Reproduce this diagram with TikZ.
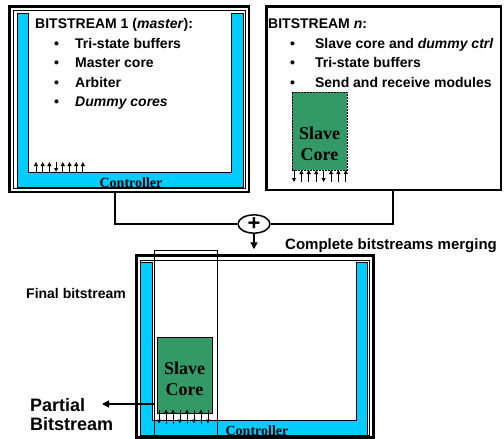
\documentclass[tikz,border=0pt]{standalone}
\usepackage{fontspec}
\setmainfont{Liberation Sans}
\newfontfamily\serifbf{Liberation Serif}
\usetikzlibrary{shapes.geometric, arrows.meta, positioning, calc}

\definecolor{ctrlblue}{RGB}{0,204,255}
\definecolor{coregreen}{RGB}{51,153,102}
\definecolor{pinyellow}{RGB}{230,180,0}

% bullet line with indent
\newcommand{\bitem}[1][19pt]{\hspace*{#1}\makebox[21pt][l]{\textbullet}}

\begin{document}
\begin{tikzpicture}[
        x=1pt, y=-1pt,
        font=\bfseries,
        frame/.style={rectangle, draw, line width=2.5pt, inner sep=0pt},
        ctrl/.style={fill=ctrlblue, draw, line width=0.6pt},
        core/.style={rectangle, draw, fill=coregreen, inner sep=0pt},
        listtxt/.style={align=left, inner sep=0pt, font=\fontsize{14}{19.5}\selectfont\bfseries},
        coretxt/.style={align=center, inner sep=0pt, font=\serifbf\fontsize{18}{21}\selectfont\bfseries},
        ctrltxt/.style={inner sep=0pt, font=\serifbf\fontsize{14}{14}\selectfont\bfseries},
        pin/.style={-{Triangle[length=4pt, width=4pt, fill=pinyellow]}, line width=1pt},
        line/.style={line width=1.6pt},
        arrow/.style={-{Triangle[length=7pt, width=7pt]}, line width=1.4pt}
        ]
        \useasboundingbox (0,0) rectangle (504,439);

        % bitstream 1 (master)
        \path[ctrl] (17,13) -- (28,13) -- (28,172) -- (231,172) -- (231,13) -- (243,13)
            -- (243,187) -- (17,187) -- cycle;
        \node (ctrl1) [ctrltxt, anchor=base] at (131,187) {Controller};
        \draw[line width=0.8pt] (13.5,10) rectangle (245.5,188.5);
        \node (bs1) [frame, minimum width=239.5, minimum height=185.5] at (129.25,99.25) {};
        \node (txt1) [listtxt, anchor=north west] at (35,18.5) {BITSTREAM 1 (\textit{master}):\\
            \bitem Tri-state buffers\\
            \bitem Master core\\
            \bitem Arbiter\\
            \bitem \textit{Dummy cores}};
        \coordinate (bank1) at (36,167);
        \foreach \s [count=\i from 0] in {1,1,1,-1,1,1,1,1}
            \draw[pin] ([shift={(\i*6.7,5*\s)}]bank1) -- ([shift={(\i*6.7,-5*\s)}]bank1);

        % bitstream n
        \node (bsn) [frame, minimum width=234.5, minimum height=183.5] at (383.75,98.25) {};
        \node (txtn) [listtxt, anchor=north west] at (268,19) {BITSTREAM \textit{n}:\\
            \bitem[22pt] Slave core and \textit{dummy ctrl}\\
            \bitem[22pt] Tri-state buffers\\
            \bitem[22pt] Send and receive modules};
        \node (core1) [core, dash pattern=on 2pt off 1pt, minimum width=55, minimum height=78] at (319.5,131) {};
        \node (s1txt) [coretxt] at ([yshift=-12.5pt]core1.center) {Slave\\Core};
        \coordinate (bank2) at (294,176);
        \foreach \s [count=\i from 0] in {-1,1,1,1,-1,1,1,1}
            \draw[pin] ([shift={(\i*7.4,6*\s)}]bank2) -- ([shift={(\i*7.4,-6*\s)}]bank2);

        % merging
        \node (merge) [ellipse, draw, line width=1.5pt, minimum width=32, minimum height=18, inner sep=0pt,
            font=\fontsize{22}{22}\selectfont\bfseries] at (254,224) {+};
        \draw [line] ([xshift=-14.25pt]bs1.south) |- (merge.west);
        \draw [line] ([xshift=9.25pt]bsn.south) |- (merge.east);
        \node (mergetxt) [anchor=west, inner sep=0pt, font=\fontsize{15}{15}\selectfont\bfseries] at (285,246) {Complete bitstreams merging};

        % final bitstream
        \path[ctrl] (140,262) -- (152,262) -- (152,420) -- (356,420) -- (356,262) -- (367,262)
            -- (367,435) -- (140,435) -- cycle;
        \node (ctrl2) [ctrltxt, anchor=base] at (257,435) {Controller};
        \draw[line width=0.8pt] (140,260) rectangle (369,435);
        \node (final) [frame, minimum width=237, minimum height=182] at (255,346.5) {};
        \draw [arrow, shorten >=5pt] (merge.south) -- (merge.south |- final.north);
        \node (slot) [rectangle, draw, line width=0.8pt, inner sep=0pt, minimum width=63, minimum height=190] at (185.5,345) {};
        \node (core2) [core, minimum width=55, minimum height=76] at (184.5,375) {};
        \node (s2txt) [coretxt] at ([yshift=-4pt]core2.center) {Slave\\Core};
        \coordinate (bank3) at (159,416.5);
        \foreach \s [count=\i from 0] in {-1,1,1,-1,1,-1,1,-1}
            \draw[pin] ([shift={(\i*7,7*\s)}]bank3) -- ([shift={(\i*7,-7*\s)}]bank3);

        \node (finaltxt) [inner sep=0pt, font=\fontsize{14}{14}\selectfont\bfseries] at (76,293) {Final bitstream};
        \node (partial) [anchor=west, align=left, inner sep=0pt, font=\fontsize{18}{19}\selectfont\bfseries] at (30,414.5) {Partial\\Bitstream};
        \coordinate (pbtip) at (102,404);
        \draw [arrow] (slot.west |- pbtip) -- (pbtip);
    \end{tikzpicture}
\end{document}
